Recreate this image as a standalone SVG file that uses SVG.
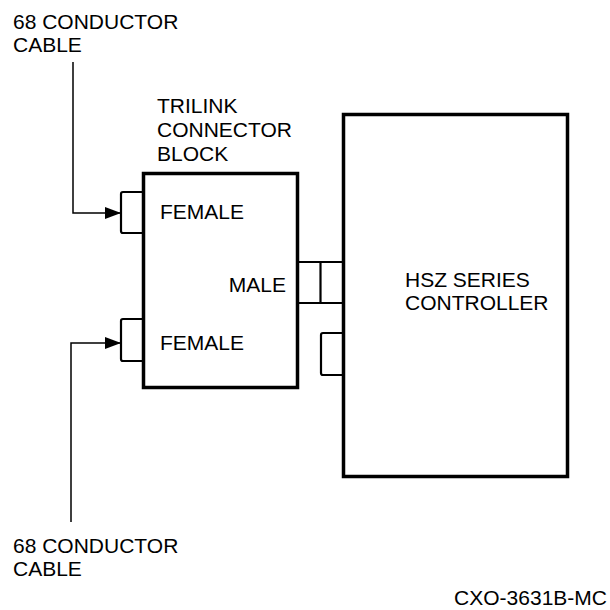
<svg xmlns="http://www.w3.org/2000/svg" width="610" height="610" viewBox="0 0 610 610">
<defs>
<style>
text{font-family:"Liberation Sans",Arial,sans-serif;font-size:21px;fill:#000}
.box{fill:#fff;stroke:#000;stroke-width:3.5}
.conn{fill:none;stroke:#000;stroke-width:2.2;stroke-linejoin:round}
.wire{fill:none;stroke:#000;stroke-width:1.5}
</style>
<marker id="arr" markerWidth="16" markerHeight="12" refX="16" refY="6" orient="auto" markerUnits="userSpaceOnUse">
<path d="M0,0 L16,6 L0,12 Z" fill="#000"/>
</marker>
</defs>
<rect width="610" height="610" fill="#fff"/>
<g id="trilink">
<rect class="box" x="143.5" y="173.5" width="154" height="214"/>
<text x="157" y="113">TRILINK</text>
<text x="157" y="137">CONNECTOR</text>
<text x="157" y="161">BLOCK</text>
<text x="160" y="219">FEMALE</text>
<text x="160" y="350">FEMALE</text>
<text x="286" y="292" text-anchor="end">MALE</text>
</g>
<g id="female-top">
<path class="conn" d="M143,192 H123 Q121,192 121,194 V231 Q121,233 123,233 H143"/>
</g>
<g id="female-bottom">
<path class="conn" d="M143,319 H123 Q121,319 121,321 V359 Q121,361 123,361 H143"/>
</g>
<g id="male">
<path class="conn" d="M298,262 H342 M298,303 H342 M320.5,262 V303"/>
</g>
<g id="controller-port">
<path class="conn" d="M342,333 H323 Q321,333 321,335 V373 Q321,375 323,375 H342"/>
</g>
<g id="controller">
<rect class="box" x="343.5" y="114.5" width="224" height="362"/>
<text x="405" y="287">HSZ SERIES</text>
<text x="405" y="310">CONTROLLER</text>
</g>
<g id="cable-top">
<text x="13" y="29">68 CONDUCTOR</text>
<text x="13" y="52">CABLE</text>
</g>
<g id="cable-bottom">
<text x="13" y="553">68 CONDUCTOR</text>
<text x="13" y="576">CABLE</text>
</g>
<text x="607" y="605" text-anchor="end">CXO-3631B-MC</text>
<g id="connectors">
<path class="wire" d="M73,62 V213 H121" marker-end="url(#arr)"/>
<path class="wire" d="M71,522 V343 H121" marker-end="url(#arr)"/>
</g>
</svg>
